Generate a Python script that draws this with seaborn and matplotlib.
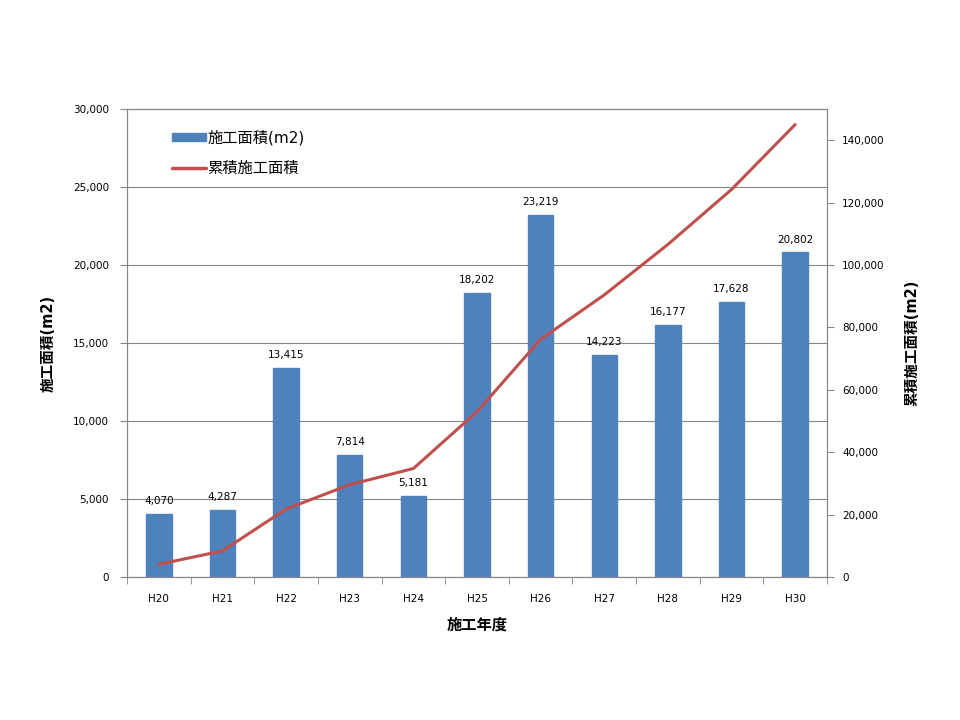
import matplotlib
matplotlib.use("Agg")
import matplotlib.pyplot as plt
import seaborn as sns
import numpy as np
import pandas as pd
from matplotlib.ticker import FuncFormatter, MultipleLocator
from matplotlib.patches import Patch
from matplotlib.lines import Line2D

years = ["H20", "H21", "H22", "H23", "H24", "H25", "H26", "H27", "H28", "H29", "H30"]
area = [4070, 4287, 13415, 7814, 5181, 18202, 23219, 14223, 16177, 17628, 20802]
cumulative = [4070, 8357, 21772, 29586, 34767, 52969, 76188, 90411, 106588, 124216, 145018]

bar_label = "施工面積(m2)"
line_label = "累積施工面積"
xlabel = "施工年度"
ylabel_left = "施工面積(m2)"
ylabel_right = "累積施工面積(m2)"

sns.set_style("white")
plt.rcParams['font.family'] = ['DejaVu Sans', 'Noto Sans CJK JP']
plt.rcParams['text.color'] = 'black'
plt.rcParams['axes.labelcolor'] = 'black'
plt.rcParams['xtick.color'] = 'black'
plt.rcParams['ytick.color'] = 'black'

bar_color = "#4F81BD"
line_color = "#C0504D"
grid_color = "#868686"

df = pd.DataFrame({"year": years, "area": area, "cum": cumulative})
df["pos"] = np.arange(len(years))

fig = plt.figure(figsize=(9.6, 7.2), dpi=100)
ax = fig.add_axes([127/960, 1-577/720, 700/960, 468/720])
sns.barplot(data=df, x="year", y="area", color=bar_color, width=0.4,
            saturation=1, ax=ax, zorder=2, edgecolor=bar_color)
ax.set_ylim(0, 30000)
ax.set_xlim(-0.5, len(years)-0.5)
ax.yaxis.set_major_locator(MultipleLocator(5000))
ax.yaxis.set_major_formatter(FuncFormatter(lambda v, p: f"{int(v):,}"))
ax.grid(axis="y", color=grid_color, linewidth=0.8, zorder=0)
ax.set_axisbelow(True)
for s in ax.spines.values():
    s.set_color(grid_color)
    s.set_linewidth(0.8)

for p, v in zip(df["pos"], area):
    ax.text(p, v + 500, f"{v:,}", ha="center", va="bottom", fontsize=7.5, color="black")

ax.tick_params(axis="y", which="major", length=5, color=grid_color, labelsize=7.5, pad=8, direction="out", left=True, labelcolor="black")
ax.set_xticks(np.arange(-0.5, len(years), 1), minor=True)
ax.tick_params(axis="x", which="major", length=0, labelsize=7.5, pad=12, labelcolor="black")
ax.tick_params(axis="x", which="minor", length=5, color=grid_color, direction="out", bottom=True)
ax.set_xlabel(xlabel, fontsize=11, fontweight="bold", labelpad=10)
ax.set_ylabel(ylabel_left, fontsize=10.5, fontweight="bold", labelpad=12)

ax2 = ax.twinx()
sns.lineplot(data=df, x="pos", y="cum", color=line_color, linewidth=2.2, ax=ax2, zorder=3)
ax2.set_ylim(0, 150000)
ax2.set_yticks(np.arange(0, 150001, 20000))
ax2.yaxis.set_major_formatter(FuncFormatter(lambda v, p: f"{int(v):,}"))
ax2.tick_params(axis="y", length=5, color=grid_color, labelsize=7.5, pad=6, direction="out", right=True, labelcolor="black")
ax2.set_ylabel(ylabel_right, fontsize=10.5, fontweight="bold", labelpad=14)
ax2.set_xlim(-0.5, len(years)-0.5)
for s in ax2.spines.values():
    s.set_color(grid_color)
    s.set_linewidth(0.8)

handles = [Patch(facecolor=bar_color, edgecolor=bar_color),
           Line2D([0], [0], color=line_color, linewidth=2.5)]
ax.legend(handles, [bar_label, line_label], loc="upper left",
          bbox_to_anchor=(0.045, 0.985), frameon=False, fontsize=11,
          handlelength=2.2, handleheight=0.5, labelspacing=1.0, handletextpad=0.1)

fig.savefig("out.png", dpi=100)
